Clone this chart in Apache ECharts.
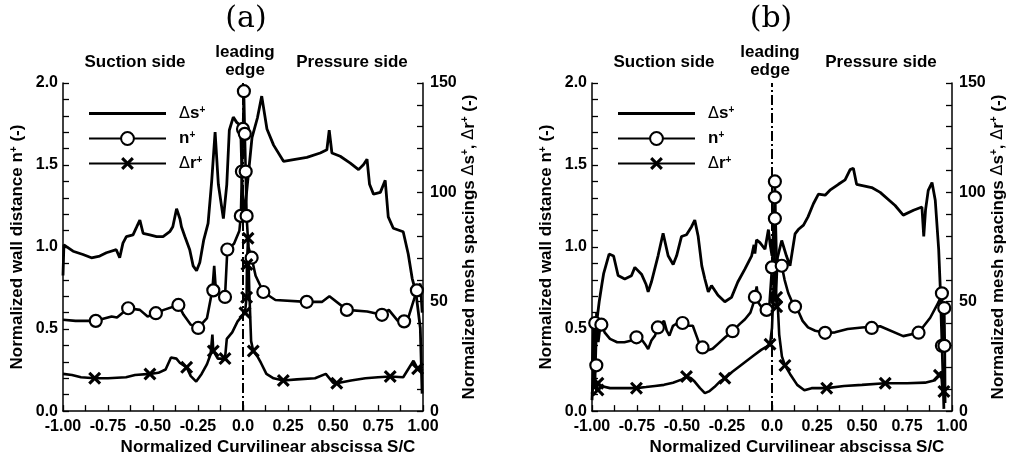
<!DOCTYPE html>
<html><head><meta charset="utf-8">
<script src="https://cdn.jsdelivr.net/npm/echarts@6/dist/echarts.min.js"></script>
<style>html,body{margin:0;padding:0;background:#fff}#c{width:1015px;height:461px}</style>
</head><body><div id="c"></div>
<script>
// ---------- DATA ----------
const panelTitles = ['(a)', '(b)'];
const seriesNames = ['Δs⁺', 'n⁺', 'Δr⁺'];
const xTicks = [-1, -0.75, -0.5, -0.25, 0, 0.25, 0.5, 0.75, 1];
const leadingEdgeX = 0;

// Panel (a): Δs+ (right axis)
const dsA = [[-1.0,62],[-0.995,76],[-0.944,73.1],[-0.889,71.6],[-0.842,70.1],[-0.796,70.9],[-0.759,72.4],[-0.704,73.8],[-0.685,70.1],[-0.667,76.8],[-0.648,79.8],[-0.611,80.6],[-0.59,84.3],[-0.573,87.3],[-0.555,81.3],[-0.518,80.6],[-0.48,79.8],[-0.444,79.8],[-0.407,82],[-0.39,84.3],[-0.369,92.5],[-0.35,87.8],[-0.342,84.3],[-0.323,79.8],[-0.296,73.8],[-0.277,66.4],[-0.258,64.2],[-0.24,67.9],[-0.218,78.3],[-0.194,85.8],[-0.174,105],[-0.155,127.6],[-0.137,103.7],[-0.109,88],[-0.09,103.7],[-0.076,128.4],[-0.054,134.4],[-0.035,132],[-0.013,130.5],[-0.005,105],[0.005,88],[0.02,100],[0.05,125],[0.08,134],[0.104,144],[0.133,129],[0.17,121.6],[0.225,114.2],[0.281,115],[0.355,116],[0.429,118],[0.466,119.5],[0.479,128.4],[0.494,118],[0.54,116.5],[0.596,113.4],[0.642,110.4],[0.67,112.7],[0.689,115.2],[0.703,103.7],[0.725,99.2],[0.763,100],[0.79,105.5],[0.807,88.8],[0.835,83.6],[0.89,82],[0.918,71.8],[0.94,60.6],[0.96,54.5],[0.985,38],[0.995,8]];
// Panel (a): n+ (left axis)
const nA = [[-1.0,0.557],[-0.93,0.55],[-0.818,0.55],[-0.73,0.577],[-0.70,0.57],[-0.638,0.627],[-0.573,0.617],[-0.53,0.577],[-0.484,0.597],[-0.44,0.617],[-0.359,0.647],[-0.33,0.587],[-0.29,0.527],[-0.249,0.507],[-0.20,0.567],[-0.17,0.74],[-0.16,0.885],[-0.15,0.726],[-0.13,0.716],[-0.10,0.696],[-0.087,0.985],[-0.05,1.02],[-0.02,1.10],[-0.012,1.19],[-0.006,1.46],[0.0,1.72],[0.005,1.95],[0.01,1.69],[0.015,1.46],[0.02,1.19],[0.03,1.0],[0.048,0.935],[0.07,0.825],[0.113,0.726],[0.18,0.677],[0.354,0.666],[0.44,0.666],[0.48,0.70],[0.577,0.617],[0.69,0.607],[0.772,0.587],[0.81,0.617],[0.86,0.55],[0.89,0.547],[0.91,0.54],[0.94,0.646],[0.966,0.736],[0.985,0.777],[0.995,0.6]];
const nAmarks = [[-0.818,0.55],[-0.638,0.627],[-0.484,0.597],[-0.359,0.647],[-0.249,0.507],[-0.165,0.736],[-0.10,0.696],[-0.087,0.985],[-0.012,1.19],[0.02,1.19],[-0.006,1.46],[0.015,1.46],[0.0,1.72],[0.01,1.69],[0.005,1.95],[0.048,0.935],[0.113,0.726],[0.354,0.666],[0.577,0.617],[0.772,0.587],[0.895,0.547],[0.966,0.736]];
// Panel (a): Δr+ (right axis)
const drA = [[-1.0,17],[-0.95,16.5],[-0.9,15.5],[-0.824,15],[-0.75,15],[-0.65,15.5],[-0.6,16.5],[-0.517,17],[-0.47,17.5],[-0.43,19],[-0.40,24.5],[-0.37,24],[-0.35,22],[-0.313,20],[-0.29,16],[-0.26,13.5],[-0.23,17],[-0.20,21.5],[-0.18,26],[-0.17,35],[-0.165,27.5],[-0.14,24],[-0.10,24],[-0.09,33],[-0.06,36],[-0.03,41],[0.011,45],[0.02,52],[0.022,67],[0.028,79],[0.035,55],[0.045,32],[0.057,27.5],[0.08,25],[0.10,22],[0.13,17],[0.17,15],[0.224,14],[0.30,14.5],[0.40,15],[0.46,17],[0.50,13],[0.521,12.7],[0.60,14],[0.68,15],[0.75,15.5],[0.818,15.8],[0.89,15.5],[0.947,23],[0.97,19.4],[1.0,18.5]];
const drAmarks = [[-0.824,15],[-0.517,17],[-0.313,20],[-0.165,27.5],[-0.10,24],[0.011,45],[0.02,52],[0.022,67],[0.028,79],[0.057,27.5],[0.224,14],[0.521,12.7],[0.818,15.8],[0.97,19.4]];

// Panel (b): Δs+ (right axis)
const dsB = [[-1.0,5],[-0.99,25],[-0.985,10],[-0.975,40],[-0.96,50],[-0.945,58],[-0.935,63],[-0.905,71.8],[-0.88,70.9],[-0.855,62],[-0.818,60.4],[-0.781,61.9],[-0.762,65.7],[-0.725,62.6],[-0.70,58],[-0.688,54.5],[-0.67,59],[-0.633,71],[-0.605,81.3],[-0.577,71],[-0.549,67],[-0.53,71],[-0.503,79.8],[-0.475,80.6],[-0.447,84.3],[-0.429,87.3],[-0.41,79.8],[-0.39,66.4],[-0.373,60.4],[-0.354,54.5],[-0.336,57.4],[-0.30,53],[-0.262,50],[-0.225,52],[-0.19,59],[-0.15,65],[-0.113,71],[-0.10,76],[-0.095,72],[-0.086,78.3],[-0.067,77],[-0.039,74],[-0.02,83],[-0.01,76],[0.0,71],[0.01,84],[0.02,50],[0.03,70],[0.054,78],[0.08,71],[0.10,66.4],[0.128,81],[0.146,83],[0.175,85],[0.20,88.8],[0.23,94.8],[0.258,99.2],[0.295,98.7],[0.322,101],[0.369,103.7],[0.406,105.7],[0.434,110.4],[0.452,111],[0.47,103.7],[0.554,102.2],[0.601,100],[0.684,94],[0.729,89.6],[0.786,91.8],[0.833,93.3],[0.843,79.9],[0.853,92],[0.868,100.9],[0.889,104.5],[0.907,96.4],[0.926,74],[0.935,56],[0.944,32],[0.955,1]];
// Panel (b): n+ (left axis)
const nB = [[-1.0,0.25],[-0.99,0.55],[-0.985,0.30],[-0.975,0.60],[-0.965,0.42],[-0.95,0.55],[-0.93,0.48],[-0.90,0.44],[-0.86,0.42],[-0.82,0.42],[-0.78,0.43],[-0.753,0.45],[-0.72,0.43],[-0.70,0.40],[-0.688,0.378],[-0.67,0.43],[-0.65,0.46],[-0.634,0.51],[-0.60,0.55],[-0.585,0.49],[-0.57,0.46],[-0.55,0.52],[-0.52,0.54],[-0.497,0.537],[-0.47,0.52],[-0.44,0.52],[-0.42,0.46],[-0.40,0.40],[-0.386,0.388],[-0.36,0.37],[-0.33,0.38],[-0.30,0.41],[-0.26,0.45],[-0.219,0.487],[-0.18,0.53],[-0.15,0.56],[-0.12,0.60],[-0.105,0.65],[-0.095,0.70],[-0.085,0.76],[-0.075,0.66],[-0.05,0.62],[-0.03,0.617],[-0.015,0.64],[0.0,0.876],[0.012,1.174],[0.014,1.303],[0.016,1.40],[0.018,1.30],[0.02,1.17],[0.025,0.95],[0.035,0.88],[0.054,0.886],[0.07,0.80],[0.09,0.72],[0.11,0.67],[0.128,0.637],[0.15,0.60],[0.17,0.55],[0.20,0.51],[0.24,0.49],[0.295,0.477],[0.35,0.48],[0.42,0.50],[0.50,0.51],[0.601,0.517],[0.729,0.457],[0.814,0.478],[0.879,0.569],[0.926,0.666],[0.944,0.718],[0.95,0.55],[0.944,0.398],[0.957,0.628],[0.96,0.40],[0.962,0.05]];
const nBmarks = [[-0.976,0.279],[-0.982,0.537],[-0.948,0.527],[-0.753,0.45],[-0.634,0.51],[-0.497,0.537],[-0.386,0.388],[-0.219,0.487],[-0.095,0.696],[-0.03,0.617],[0.0,0.876],[0.016,1.174],[0.016,1.303],[0.016,1.40],[0.054,0.886],[0.128,0.637],[0.295,0.477],[0.554,0.507],[0.814,0.478],[0.944,0.718],[0.957,0.628],[0.944,0.398],[0.958,0.398]];
// Panel (b): Δr+ (right axis)
const drB = [[-1.0,8],[-0.985,16],[-0.975,9],[-0.967,12.7],[-0.95,11.5],[-0.90,10.5],[-0.85,10.5],[-0.80,10.5],[-0.753,10.5],[-0.70,11],[-0.65,11.5],[-0.60,12],[-0.55,13],[-0.50,14.5],[-0.475,15.8],[-0.45,15],[-0.43,13.5],[-0.40,10.5],[-0.373,8.2],[-0.35,9],[-0.32,11],[-0.29,13.5],[-0.262,15],[-0.22,18],[-0.18,20.5],[-0.14,23],[-0.10,25.5],[-0.06,28],[-0.03,29.5],[-0.011,30.6],[0.0,38],[0.008,55],[0.012,70],[0.018,60],[0.026,47.7],[0.03,52],[0.04,35],[0.055,25],[0.072,20.9],[0.10,17],[0.14,12],[0.18,9.5],[0.22,10.5],[0.304,10.5],[0.40,11.5],[0.50,12],[0.629,12.7],[0.75,12.7],[0.85,13],[0.90,14],[0.926,16.4],[0.94,18],[0.948,8],[0.955,11.2],[0.96,4]];
const drBmarks = [[-0.967,12.7],[-0.967,9.7],[-0.753,10.5],[-0.475,15.8],[-0.262,15],[-0.011,30.6],[0.026,47.7],[0.026,52],[0.072,20.9],[0.304,10.5],[0.629,12.7],[0.93,16.4],[0.955,9]];

// ---------- STYLE / BUILD ----------
const F = '"Liberation Sans", Arial, sans-serif';
const rich = {
  b: {fontFamily: F, fontWeight: 'bold', fontSize: 17, color: '#000'},
  d: {fontFamily: '"DejaVu Sans"', fontWeight: 'normal', fontSize: 16, color: '#000'},
  p: {fontFamily: F, fontWeight: 'bold', fontSize: 10, color: '#000', verticalAlign: 'top'}
};
const XPATH = 'path://M0,1.7L1.7,0L5,3.3L8.3,0L10,1.7L6.7,5L10,8.3L8.3,10L5,6.7L1.7,10L0,8.3L3.3,5Z';
const LW = 2.6;
const panels = [
  {ds: dsA, n: nA, nm: nAmarks, dr: drA, drm: drAmarks, left: 63, cx: 246, sx: 135, px: 352},
  {ds: dsB, n: nB, nm: nBmarks, dr: drB, drm: drBmarks, left: 592, cx: 771, sx: 664, px: 881}
];
const legendFmt = {'Δs⁺': '{d|Δ}{b|s}{p|+}', 'n⁺': '{b|n}{p|+}', 'Δr⁺': '{d|Δ}{b|r}{p|+}'};

const grid = [], xAxis = [], yAxis = [], series = [], legend = [], graphic = [];
const tickCommon = {inside: true, length: 6, lineStyle: {color: '#000', width: 1.3}};
const minorCommon = (n) => ({show: true, splitNumber: n, length: 6, lineStyle: {color: '#000', width: 1.3}});
const lblCommon = {color: '#000', fontFamily: F, fontWeight: 'bold', fontSize: 16};
const axLine = {show: true, onZero: false, lineStyle: {color: '#000', width: 1.5}};

panels.forEach((P, i) => {
  grid.push({left: P.left, top: 83, width: 360, height: 335});
  xAxis.push({
    type: 'value', gridIndex: i, min: xTicks[0], max: xTicks[xTicks.length - 1], interval: 0.25,
    axisLine: axLine,
    axisTick: tickCommon, minorTick: minorCommon(2), splitLine: {show: false},
    axisLabel: Object.assign({}, lblCommon, {margin: 7, showMinLabel: true, showMaxLabel: true,
      formatter: v => Math.abs(v) < 1e-9 ? '0.0' : v.toFixed(2)}),
    name: '{b|Normalized Curvilinear abscissa S/C}', nameLocation: 'middle', nameGap: 20,
    nameTextStyle: {rich: rich, padding: [0, 0, 0, 50]}
  });
  yAxis.push({
    type: 'value', gridIndex: i, position: 'left', min: 0, max: 2, interval: 0.5,
    axisLine: axLine,
    axisTick: tickCommon, minorTick: minorCommon(5), splitLine: {show: false},
    axisLabel: Object.assign({}, lblCommon, {margin: 5, formatter: v => v.toFixed(1)}),
    name: '{b|Normalized wall distance n}{p|+}{b| (-)}', nameLocation: 'middle', nameGap: 37, nameRotate: 90,
    nameTextStyle: {rich: rich}
  });
  yAxis.push({
    type: 'value', gridIndex: i, position: 'right', min: 0, max: 150, interval: 50,
    axisLine: axLine,
    axisTick: tickCommon, minorTick: minorCommon(5), splitLine: {show: false},
    axisLabel: Object.assign({}, lblCommon, {margin: 7}),
    name: '{b|Normalized mesh spacings }{d|Δ}{b|s}{p|+}{b|, }{d|Δ}{b|r}{p|+}{b| (-)}', nameLocation: 'middle', nameGap: 37, nameRotate: 90,
    nameTextStyle: {rich: rich}
  });
  const li = i * 2, ri = i * 2 + 1;
  // leading edge dash-dot line
  series.push({
    name: 'le ' + i, type: 'line', xAxisIndex: i, yAxisIndex: ri,
    data: [[leadingEdgeX, 0], [leadingEdgeX, 150]],
    symbol: 'none', showSymbol: false, animation: false, silent: true, z: 2,
    lineStyle: {color: '#000', width: 2, type: [10, 3, 2, 3]}
  });
  series.push({
    name: seriesNames[0], type: 'line', xAxisIndex: i, yAxisIndex: ri, data: P.ds,
    symbol: 'none', showSymbol: false, animation: false, z: 3,
    lineStyle: {color: '#000', width: LW + 0.2}, itemStyle: {color: '#000'}
  });
  series.push({
    name: seriesNames[1], type: 'line', xAxisIndex: i, yAxisIndex: li, data: P.n,
    symbol: 'circle', showSymbol: false, animation: false, z: 3,
    lineStyle: {color: '#000', width: LW}, itemStyle: {color: '#fff', borderColor: '#000', borderWidth: 2, opacity: 1}
  });
  series.push({
    name: seriesNames[2], type: 'line', xAxisIndex: i, yAxisIndex: ri, data: P.dr,
    symbol: XPATH, showSymbol: false, animation: false, z: 3,
    lineStyle: {color: '#000', width: LW}, itemStyle: {color: '#000', opacity: 1}
  });
  series.push({
    name: 'n marks ' + i, type: 'scatter', xAxisIndex: i, yAxisIndex: li, data: P.nm,
    symbol: 'circle', symbolSize: 12, animation: false, z: 4,
    itemStyle: {color: '#fff', borderColor: '#000', borderWidth: 2.2, opacity: 1}
  });
  series.push({
    name: 'r marks ' + i, type: 'scatter', xAxisIndex: i, yAxisIndex: ri, data: P.drm,
    symbol: XPATH, symbolSize: 13, animation: false, z: 4,
    itemStyle: {color: '#000', opacity: 1}
  });
  legend.push({
    orient: 'vertical', left: P.left + 20, top: 100, itemWidth: 77, itemHeight: 16, itemGap: 8,
    selectedMode: false,
    data: [{name: seriesNames[0], icon: 'path://M0,0H77V3H0Z'}, seriesNames[1], seriesNames[2]],
    formatter: name => legendFmt[name],
    itemStyle: {opacity: 1},
    textStyle: {rich: rich, padding: [0, 0, 0, 8]}
  });
  const tf = 'bold 17px ' + F;
  graphic.push({type: 'text', x: P.cx, y: 19, style: {text: panelTitles[i], align: 'center', verticalAlign: 'middle', font: '30px "DejaVu Serif", serif', fill: '#000'}});
  graphic.push({type: 'text', x: P.sx, y: 62, style: {text: 'Suction side', align: 'center', verticalAlign: 'middle', font: tf, fill: '#000'}});
  graphic.push({type: 'text', x: P.cx - 1, y: 52, style: {text: 'leading', align: 'center', verticalAlign: 'middle', font: tf, fill: '#000'}});
  graphic.push({type: 'text', x: P.cx - 1, y: 70, style: {text: 'edge', align: 'center', verticalAlign: 'middle', font: tf, fill: '#000'}});
  graphic.push({type: 'text', x: P.px, y: 62, style: {text: 'Pressure side', align: 'center', verticalAlign: 'middle', font: tf, fill: '#000'}});
});

const chart = echarts.init(document.getElementById('c'), null, {renderer: 'canvas'});
chart.setOption({backgroundColor: '#fff', animation: false, grid, xAxis, yAxis, series, legend, graphic});
</script>
</body></html>
